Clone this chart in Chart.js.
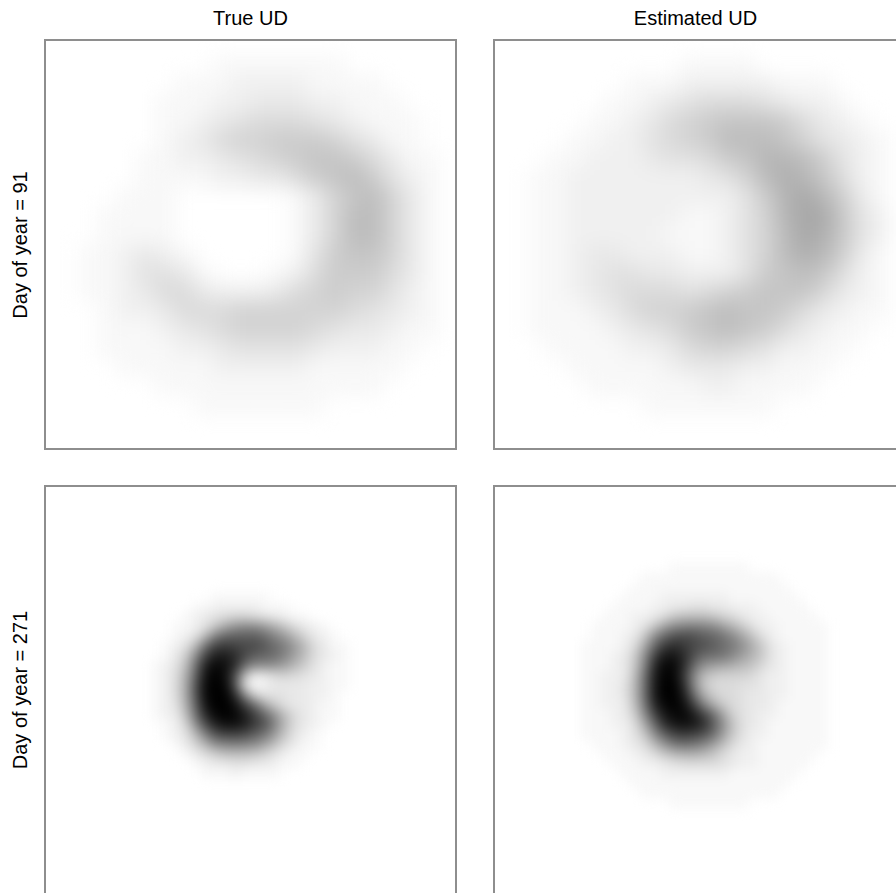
<!DOCTYPE html>
<html>
<head>
<meta charset="utf-8">
<script src="https://cdn.jsdelivr.net/npm/chart.js@4.4.1/dist/chart.umd.min.js"></script>
<style>
    html, body { margin: 0; padding: 0; background: #fff; overflow: hidden; }
    body { width: 896px; height: 893px; position: relative; font-family: "Liberation Sans", Arial, sans-serif; color: #000; }
    .panel { position: absolute; width: 413px; height: 411px; box-sizing: border-box; border: 2px solid #8e8e8e; overflow: hidden; background: #fff; }
    .panel canvas { display: block; }
    .col-title { position: absolute; top: 8px; font-size: 20px; line-height: 20px; white-space: nowrap; transform: translateX(-50%); }
    .row-title { position: absolute; font-size: 20px; line-height: 20px; white-space: nowrap; transform: translate(-50%, -50%) rotate(-90deg); }
</style>
</head>
<body>

<div class="col-title" id="colTitle0" style="left:250.5px"></div>
<div class="col-title" id="colTitle1" style="left:695.5px"></div>
<div class="row-title" id="rowTitle0" style="left:20px; top:244.5px"></div>
<div class="row-title" id="rowTitle1" style="left:20px; top:690px"></div>

<div class="panel" style="left:44px; top:39px"><canvas id="tl" width="409" height="407" style="filter:blur(10px)"></canvas></div>
<div class="panel" style="left:493px; top:39px"><canvas id="tr" width="409" height="407" style="filter:blur(10px)"></canvas></div>
<div class="panel" style="left:44px; top:485px"><canvas id="bl" width="409" height="407" style="filter:blur(6px)"></canvas></div>
<div class="panel" style="left:493px; top:485px"><canvas id="br" width="409" height="407" style="filter:blur(6px)"></canvas></div>

<script>
// ==================== DATA ====================
// density grids, one char per cell, base 36: 0 = white ... z = black
// panel spans 0..20 units each way

// True UD, day 91 (20x20 cells of 1 unit)
const trueDay91 = [
    "00000000111111100000",
    "00000011122221111000",
    "00000111223332211100",
    "00000112345554321110",
    "00000123566777643110",
    "00001122345678875311",
    "00001111223357897421",
    "00011100000013689631",
    "00111100000013699631",
    "00111100000013699631",
    "01123210000014788631",
    "01124431000125777531",
    "01123553222356766421",
    "00122355566666654321",
    "00111234566665433211",
    "00111122344443222110",
    "00011111222221111100",
    "00000111111111111000",
    "00000001111111000000",
    "00000000000000000000"
];

// Estimated UD, day 91 (20x20 cells of 1 unit)
const estDay91 = [
    "00000000011110000000",
    "00000011122222111000",
    "00000112345554322100",
    "00001123567888753210",
    "00011224567999864321",
    "0011222344578aa97421",
    "01122222223469ba8521",
    "01122222222247aca731",
    "01122222211246acc842",
    "011222221112469cb842",
    "011233222112469ba731",
    "01123443322247898521",
    "01123455545678886321",
    "01112356678988753211",
    "01111234578987532110",
    "00111122356654221100",
    "00011111233322111000",
    "00001111112211110000",
    "00000001111111000000",
    "00000000000000000000"
];

// True UD, day 271 (24x24 cells of 0.5 unit, from 4 to 16)
const trueDay271 = [
    "000000000000000000000000",
    "000000000000000000000000",
    "000000001111110000000000",
    "000000112222211100000000",
    "000001234566543211000000",
    "000011248cfggeb853210000",
    "0000124ailmmmkhea6321000",
    "000124akqrqppnkiea531100",
    "000137gqvvtpmlkhd9532100",
    "001249kvyxtkggfda7421100",
    "00125bmxzxo9235654321100",
    "00125coyzyo4023333221100",
    "00125coyzztg644433221000",
    "00124bmxzzxqkc7433211000",
    "001239kuyzyvqlf953211000",
    "000126gpvxxvroha53210000",
    "000124aioqqpmje842100000",
    "0000136bghihgd9531100000",
    "000001357999864211000000",
    "000000123344332110000000",
    "000000011121111000000000",
    "000000000000000000000000",
    "000000000000000000000000",
    "000000000000000000000000"
];

// Estimated UD, day 271 (28x28 cells of 0.5 unit, from 3 to 17)
const estDay271 = [
    "0000000000000000000000000000",
    "0000000000011111111000000000",
    "0000000011111111111111000000",
    "0000000111111111111111100000",
    "0000001111222222211111110000",
    "0000011112233443322211111000",
    "0000111223589998653221111100",
    "0001111248dghihgda7422111110",
    "000111238glopomljgc842111110",
    "00111125clrtrpomkifb73211110",
    "00111237gqwwtokkjgda73211110",
    "00111238huyytkfdcb9853211110",
    "00112239kvzyrg97666532211110",
    "0011224akwzztg85554432211110",
    "0011224akwzzvkb7554332211110",
    "00112239juyzxqhb754332111110",
    "00111237gqwyyvqkc64322111110",
    "00111225cltwxwtmf84321111110",
    "001111248gmqrqokd74221111110",
    "000111235afjkjhd953211111110",
    "00001112358abba8532211111100",
    "0000011122345555432211111000",
    "0000001111222222211111110000",
    "0000000111111111111111100000",
    "0000000011111111111111000000",
    "0000000000011111111000000000",
    "0000000000000000000000000000",
    "0000000000000000000000000000"
];

const colTitles = ['True UD', 'Estimated UD'];
const rowTitles = ['Day of year = 91', 'Day of year = 271'];

colTitles.forEach((t, i) => { document.getElementById('colTitle' + i).textContent = t; });
rowTitles.forEach((t, i) => { document.getElementById('rowTitle' + i).textContent = t; });

// ==================== HEATMAP ====================
function toCells(rows, origin, step) {
    const cells = [];
    rows.forEach((row, r) => {
        for (let c = 0; c < row.length; c++) {
            const v = parseInt(row[c], 36);
            if (v > 0) {
                cells.push({ x: origin + (c + 0.5) * step, y: origin + (r + 0.5) * step, v: v });
            }
        }
    });
    return cells;
}

function shade(v) {
    const g = Math.round(255 - v * 255 / 35);
    return 'rgb(' + g + ',' + g + ',' + g + ')';
}

function drawPanel(id, rows, origin, step) {
    const ctx = document.getElementById(id).getContext('2d');
    return new Chart(ctx, {
        type: 'scatter',
        data: {
            datasets: [{
                data: toCells(rows, origin, step),
                pointStyle: 'rect',
                borderWidth: 0,
                backgroundColor: c => shade(c.raw.v),
                pointRadius: c => {
                    const area = c.chart.chartArea;
                    const side = area ? (area.right - area.left) / 20 * step : 20 * step;
                    return (side + 1) / Math.SQRT2;
                }
            }]
        },
        options: {
            responsive: false,
            animation: false,
            events: [],
            layout: { padding: 0 },
            plugins: { legend: { display: false }, tooltip: { enabled: false } },
            scales: {
                x: { type: 'linear', min: 0, max: 20, display: false },
                y: { type: 'linear', min: 0, max: 20, reverse: true, display: false }
            }
        }
    });
}

drawPanel('tl', trueDay91, 0, 1);
drawPanel('tr', estDay91, 0, 1);
drawPanel('bl', trueDay271, 4, 0.5);
drawPanel('br', estDay271, 3, 0.5);
</script>
</body>
</html>
